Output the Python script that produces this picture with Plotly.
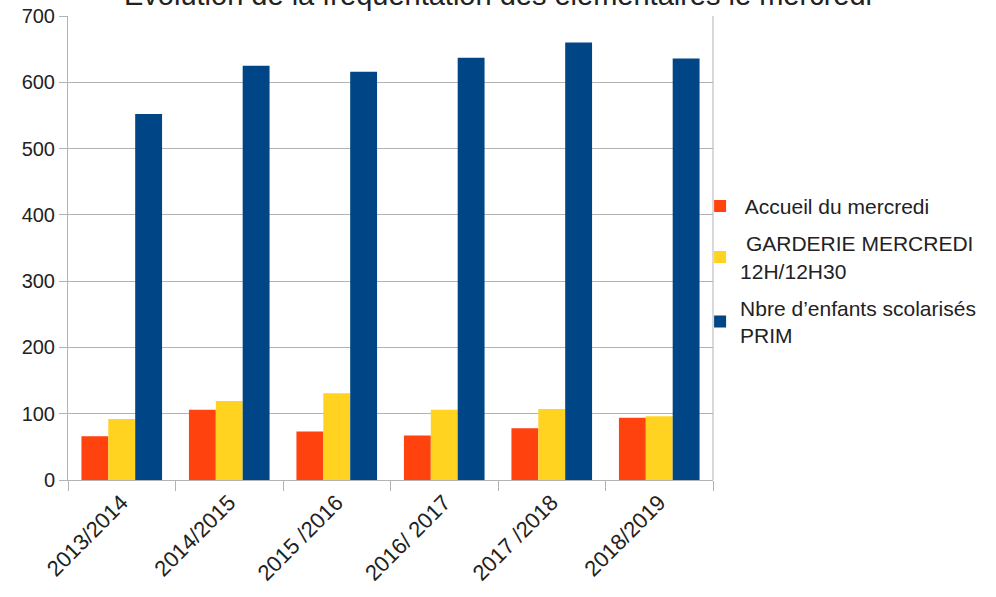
import plotly.graph_objects as go

annees = ["2013/2014", "2014/2015", "2015 /2016", "2016/ 2017", "2017 /2018", "2018/2019"]
accueil = [66, 106, 73, 67, 78, 94]
garderie = [92, 119, 131, 106, 107, 96]
scolarises = [552, 625, 616, 637, 660, 636]

noms = [" Accueil du mercredi", " GARDERIE MERCREDI<br>12H/12H30", "Nbre d’enfants scolarisés<br>PRIM"]
couleurs = ["#FF420E", "#FFD320", "#004586"]

fig = go.Figure()
for i, (nom, vals, coul) in enumerate(zip(noms, [accueil, garderie, scolarises], couleurs)):
    fig.add_trace(go.Bar(x=annees, y=vals, name=nom, legendgroup="g%d" % i,
                         marker=dict(color=coul, line=dict(width=0))))

fig.update_layout(
    width=996, height=597,
    margin=dict(l=68, r=283, t=16, b=117, autoexpand=False),
    paper_bgcolor="white", plot_bgcolor="white",
    font=dict(family="Liberation Sans, Arial, sans-serif", size=20, color="#222222"),
    barmode="group", bargap=0.25, bargroupgap=0,
    legend=dict(x=0.980, xanchor="left", y=0.634, yanchor="top",
                font=dict(size=21), tracegroupgap=7,
                bgcolor="rgba(0,0,0,0)"),
    showlegend=True,
)
# titre coupé en haut comme sur l'original
fig.add_annotation(text="Évolution de la fréquentation des élémentaires le mercredi",
                   xref="paper", yref="paper", x=0.667, y=1.0, xanchor="center",
                   yanchor="bottom", yshift=3, showarrow=False,
                   font=dict(size=29, color="#222222"))
fig.update_xaxes(showline=True, linecolor="#b3b3b3", linewidth=1, automargin=False,
                 ticks="outside", tickson="boundaries", ticklen=10, tickcolor="#b3b3b3",
                 tickangle=-45, tickfont=dict(size=22))
fig.update_yaxes(range=[0, 700], dtick=100, showgrid=True, gridcolor="#b3b3b3",
                 showline=True, linecolor="#b3b3b3", ticks="outside", ticklen=8,
                 tickcolor="#b3b3b3", zeroline=False, automargin=False,
                 ticklabeloverflow="allow", tickfont=dict(size=20))
# cadre droit
fig.add_shape(type="line", xref="paper", yref="paper", x0=1, x1=1, y0=0, y1=1,
              line=dict(color="#b3b3b3", width=1))

# pas de marge de page autour du graphique
fig.write_html("out.html", config={"displayModeBar": False},
               post_script="document.body.style.margin='0';")
